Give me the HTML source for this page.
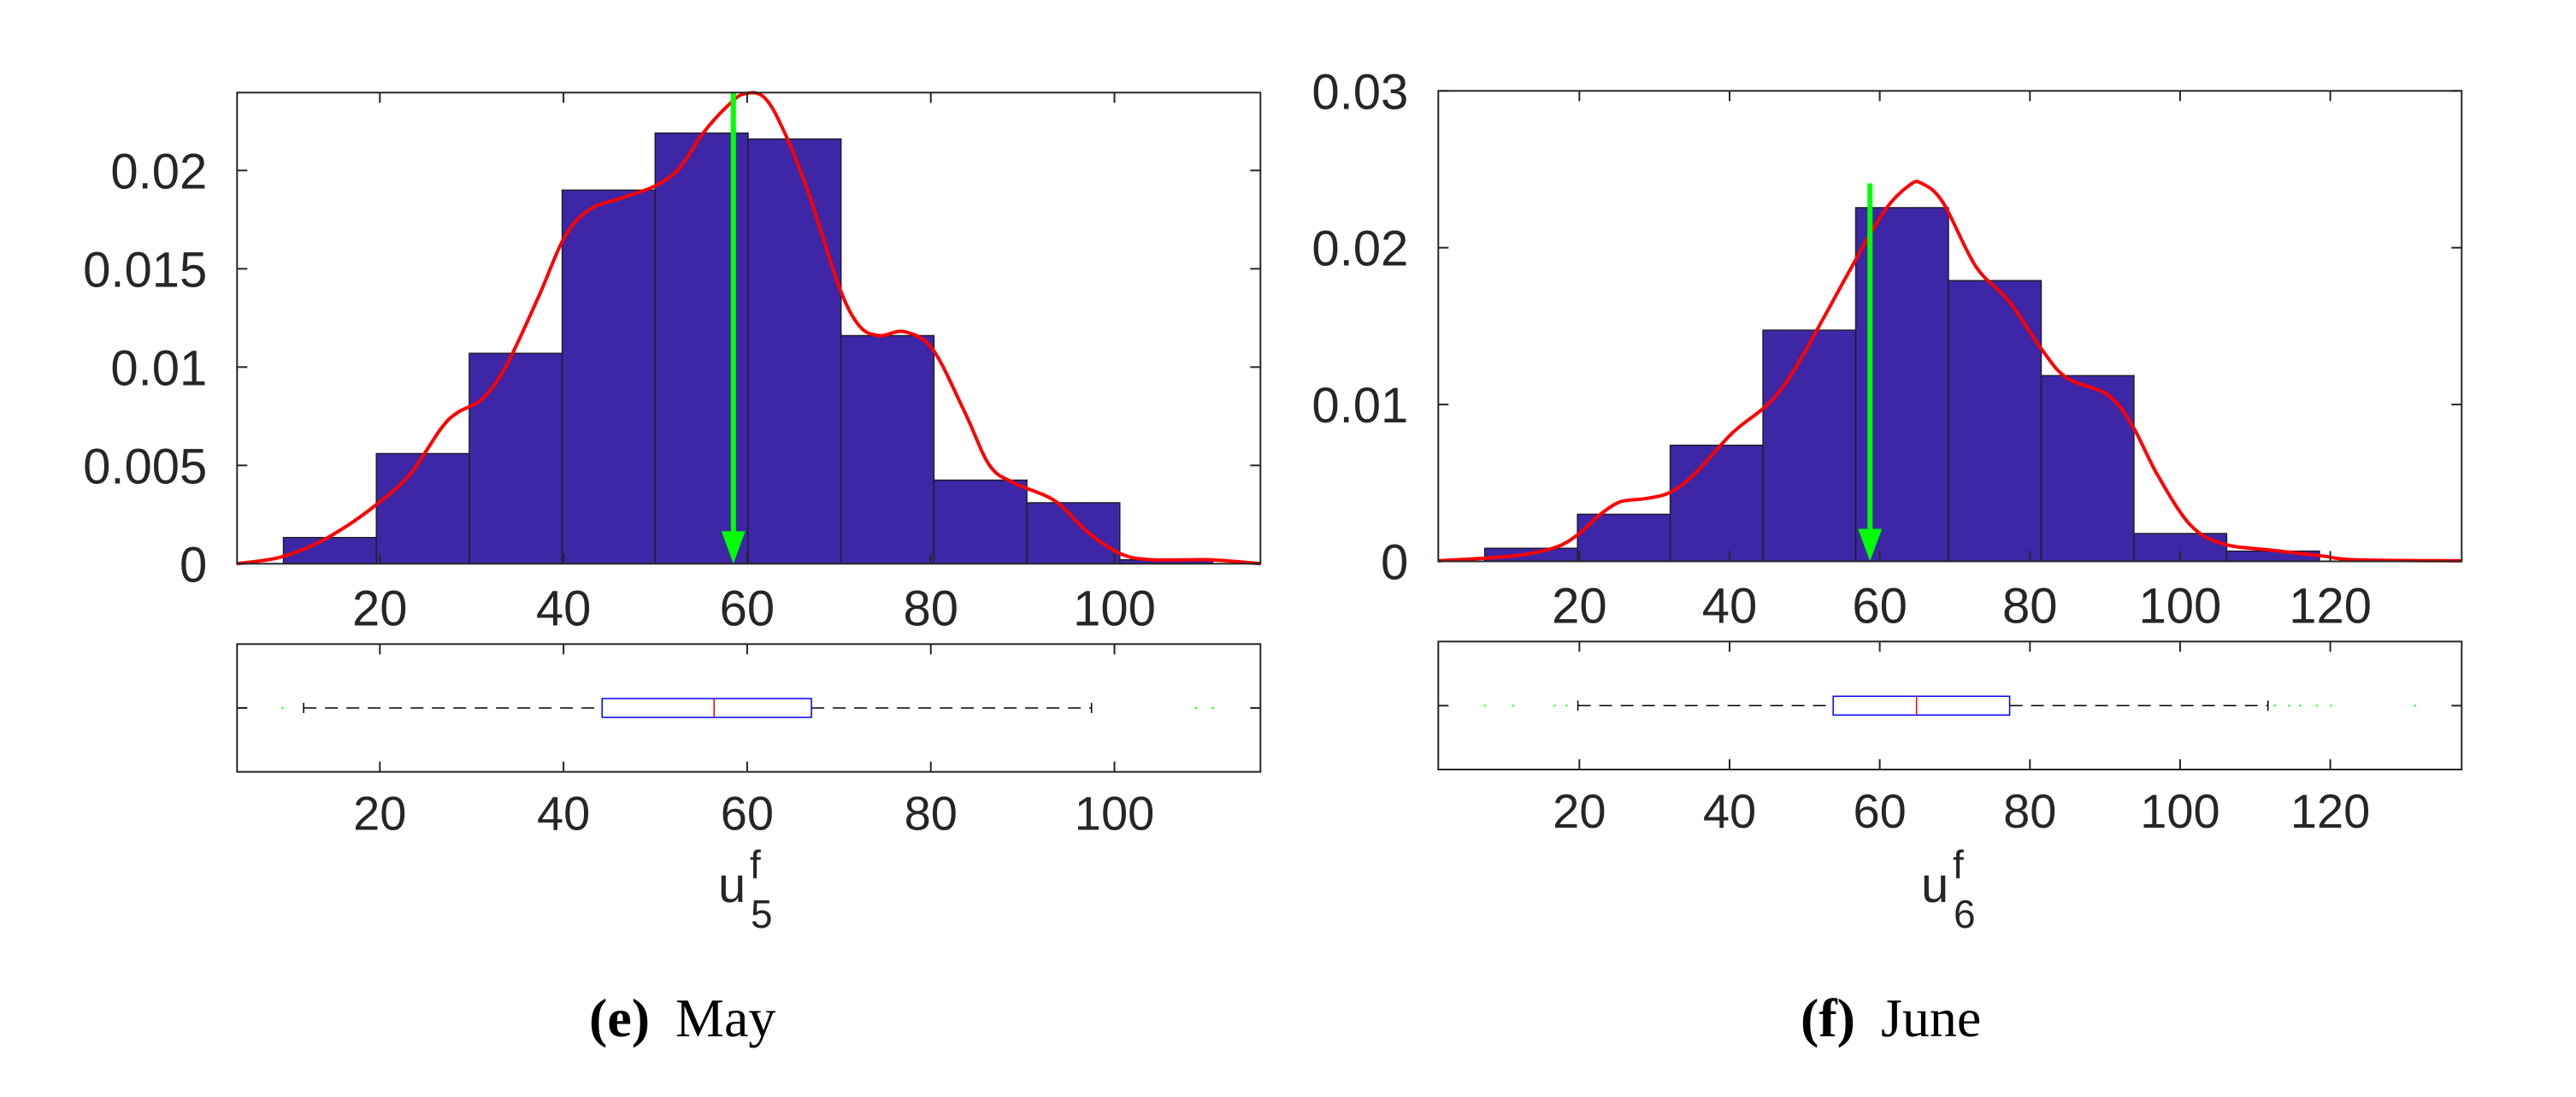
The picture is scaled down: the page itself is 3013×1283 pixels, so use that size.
<!DOCTYPE html>
<html><head><meta charset="utf-8"><style>
html,body{margin:0;padding:0;background:#fff;}
svg{display:block;}
text{font-family:"Liberation Sans",sans-serif;fill:#262626;}
.cap{font-family:"Liberation Serif",serif;fill:#000;}
</style></head><body>
<svg id="fig" width="3013" height="1283" viewBox="0 0 3013 1283" xmlns="http://www.w3.org/2000/svg">
<g id="pE"></g>
<g id="pF"></g>
<text class="cap" x="689" y="1212" font-size="64"><tspan font-weight="bold">(e)</tspan><tspan> </tspan><tspan dx="14">May</tspan></text>
<text class="cap" x="2106" y="1212" font-size="64"><tspan font-weight="bold">(f)</tspan><tspan> </tspan><tspan dx="14">June</tspan></text>
</svg>
<script>
// ---- May data ----
const mayBinStart = 9.5;
const mayBinWidth = 10.12;
const mayBars = [0.00133,0.0056,0.0107,0.019,0.0219,0.0216,0.0116,0.00425,0.0031,0.0002];
const mayKdeX = [4.4,8.9,12.5,16.0,19.6,23.2,26.7,28.5,31.2,33.8,37.4,40.1,42.8,46.3,49.9,52.6,55.2,57.9,59.7,61.9,64.1,66.8,70.0,72.2,74.4,77.1,80.2,83.7,86.4,89.1,93.5,97.1,100.7,104.2,110.5,115.9];
const mayKdeY = [0.0,0.0003,0.0009,0.0018,0.0030,0.0045,0.0069,0.0077,0.0084,0.0101,0.0137,0.0166,0.0180,0.0186,0.0192,0.0201,0.0219,0.0233,0.0239,0.0237,0.0219,0.0187,0.0141,0.0121,0.0116,0.0118,0.0109,0.0077,0.0050,0.0041,0.0032,0.0016,0.0005,0.0002,0.0002,0.0];
const mayArrow = 58.5;
const mayArrowTop = 0.024;
const mayBox = [11.7,44.2,56.4,67.0,97.5];
const mayOutliers = [9.4,108.9,110.7];
const mayXTicks = [20,40,60,80,100];
const mayYTicks = [0,0.005,0.01,0.015,0.02];
const mayYTickLabels = ["0","0.005","0.01","0.015","0.02"];

// ---- June data ----
const junBinStart = 7.4;
const junBinWidth = 12.35;
const junBars = [0.00083,0.0030,0.0074,0.01474,0.02255,0.0179,0.01184,0.00177,0.00065];
const junKdeX = [1.2,11.2,16.7,19.8,22.8,25.5,28.8,32.1,35.4,40.4,45.3,48.6,52.5,56.3,60.7,64.0,65.6,68.4,72.8,77.2,81.6,84.9,90.4,93.7,97.0,101.4,105.8,112.4,119.0,123.4,137.5];
const junKdeY = [0.00003,0.00034,0.00087,0.0017,0.0030,0.0038,0.0040,0.0044,0.0056,0.0082,0.0101,0.0122,0.0155,0.0188,0.0224,0.0240,0.0241,0.0229,0.0188,0.0166,0.0135,0.0117,0.0106,0.0086,0.0055,0.0023,0.0011,0.0007,0.00034,0.0001,0.00003];
const junArrow = 58.7;
const junArrowTop = 0.0241;
const junBox = [19.8,53.8,64.9,77.3,111.7];
const junOutliers = [7.4,11.2,16.7,18.3,112.6,114.5,116,118.2,120.1,131.3];
const junXTicks = [20,40,60,80,100,120];
const junYTicks = [0,0.01,0.02,0.03];
const junYTickLabels = ["0","0.01","0.02","0.03"];

const NS = "http://www.w3.org/2000/svg";
function mk(parent, tag, attrs, txt){
  const e = document.createElementNS(NS, tag);
  for (const k in attrs) e.setAttribute(k, attrs[k]);
  if (txt !== undefined) e.textContent = txt;
  parent.appendChild(e);
  return e;
}
function smoothPath(pts){
  let d = "M" + pts[0][0].toFixed(1) + "," + pts[0][1].toFixed(1);
  for (let i = 0; i < pts.length - 1; i++){
    const p0 = pts[Math.max(0,i-1)], p1 = pts[i], p2 = pts[i+1], p3 = pts[Math.min(pts.length-1,i+2)];
    const c1x = p1[0] + (p2[0]-p0[0])/6, c1y = p1[1] + (p2[1]-p0[1])/6;
    const c2x = p2[0] - (p3[0]-p1[0])/6, c2y = p2[1] - (p3[1]-p1[1])/6;
    d += "C" + c1x.toFixed(1) + "," + c1y.toFixed(1) + " " + c2x.toFixed(1) + "," + c2y.toFixed(1) + " " + p2[0].toFixed(1) + "," + p2[1].toFixed(1);
  }
  return d;
}

function drawPanel(g, cfg){
  const L=cfg.L, R=cfg.R, T=cfg.T, B=cfg.B;
  const sx = v => L + (v - cfg.xmin) / (cfg.xmax - cfg.xmin) * (R - L);
  const sy = v => B - (v - cfg.ymin) / (cfg.ymax - cfg.ymin) * (B - T);
  cfg.bars.forEach((h, i) => {
    const x0 = sx(cfg.binStart + i*cfg.binWidth), x1 = sx(cfg.binStart + (i+1)*cfg.binWidth);
    const r = mk(g, "rect", {x:x0, y:sy(h), width:x1-x0, height:B-sy(h), fill:"#3d27a6", stroke:"#1e1e2e", "stroke-width":1.5});
    
    
  });
  const pts = cfg.kx.map((x, i) => [sx(x), sy(cfg.ky[i])]);
  const kde = mk(g, "path", {d:smoothPath(pts), fill:"none", stroke:"#ff0000", "stroke-width":4, "stroke-linejoin":"round"});
  
  
  const ax = sx(cfg.arrow);
  const ar = mk(g, "g", {});
  
  
  mk(ar, "line", {x1:ax, y1:sy(cfg.arrowTop), x2:ax, y2:B-30, stroke:"#00ff00", "stroke-width":6});
  mk(ar, "polygon", {points:`${ax-14},${B-38} ${ax+14},${B-38} ${ax},${B}`, fill:"#00ff00"});
  const fr = mk(g, "rect", {x:L, y:T, width:R-L, height:B-T, fill:"none", stroke:"#262626", "stroke-width":2});
  
  
  cfg.xticks.forEach(t => {
    const x = sx(t);
    mk(g, "line", {x1:x, y1:B, x2:x, y2:B-12, stroke:"#262626", "stroke-width":2});
    mk(g, "line", {x1:x, y1:T, x2:x, y2:T+12, stroke:"#262626", "stroke-width":2});
    const lb = mk(g, "text", {x:x, y:B+72, "font-size":58, "text-anchor":"middle"}, String(t));
    
    
  });
  cfg.yticks.forEach((t, i) => {
    const y = sy(t);
    mk(g, "line", {x1:L, y1:y, x2:L+12, y2:y, stroke:"#262626", "stroke-width":2});
    mk(g, "line", {x1:R, y1:y, x2:R-12, y2:y, stroke:"#262626", "stroke-width":2});
    const lb = mk(g, "text", {x:L-35, y:y+21, "font-size":58, "text-anchor":"end"}, cfg.ylabels[i]);
    
    
  });
  const bT=cfg.bT, bB=cfg.bB, bc=cfg.bc;
  const bf = mk(g, "rect", {x:L, y:bT, width:R-L, height:bB-bT, fill:"none", stroke:"#262626", "stroke-width":2});
  
  
  cfg.xticks.forEach(t => {
    const x = sx(t);
    mk(g, "line", {x1:x, y1:bB, x2:x, y2:bB-12, stroke:"#262626", "stroke-width":2});
    mk(g, "line", {x1:x, y1:bT, x2:x, y2:bT+12, stroke:"#262626", "stroke-width":2});
    const lb = mk(g, "text", {x:x, y:bB+68, "font-size":56, "text-anchor":"middle"}, String(t));
    
    
  });
  mk(g, "line", {x1:L, y1:bc, x2:L+12, y2:bc, stroke:"#262626", "stroke-width":2});
  mk(g, "line", {x1:R, y1:bc, x2:R-12, y2:bc, stroke:"#262626", "stroke-width":2});
  const bx = cfg.box;
  const bp = mk(g, "g", {});
  
  
  mk(bp, "line", {x1:sx(bx[0]), y1:bc, x2:sx(bx[1]), y2:bc, stroke:"#000", "stroke-width":1.5, "stroke-dasharray":"15,10"});
  mk(bp, "line", {x1:sx(bx[3]), y1:bc, x2:sx(bx[4]), y2:bc, stroke:"#000", "stroke-width":1.5, "stroke-dasharray":"15,10"});
  mk(bp, "line", {x1:sx(bx[0]), y1:bc-6, x2:sx(bx[0]), y2:bc+6, stroke:"#000", "stroke-width":1.5});
  mk(bp, "line", {x1:sx(bx[4]), y1:bc-6, x2:sx(bx[4]), y2:bc+6, stroke:"#000", "stroke-width":1.5});
  mk(bp, "rect", {x:sx(bx[1]), y:bc-11, width:sx(bx[3])-sx(bx[1]), height:22, fill:"none", stroke:"#0000ff", "stroke-width":1.5});
  mk(bp, "line", {x1:sx(bx[2]), y1:bc-11, x2:sx(bx[2]), y2:bc+11, stroke:"#ff0000", "stroke-width":1.5});
  cfg.outliers.forEach(o => {
    const c = mk(bp, "rect", {x:sx(o)-1, y:bc-1, width:2, height:2, fill:"#00ff00"});
    
    
  });
  const al = mk(g, "text", {x:cfg.uX, y:1055, "font-size":58}, "");
  
  
  mk(al, "tspan", {}, "u");
  mk(g, "text", {x:cfg.uX+37, y:1027, "font-size":46}, "f");
  mk(g, "text", {x:cfg.uX+38, y:1085, "font-size":46}, cfg.sub);
}

drawPanel(document.getElementById("pE"), {
  L:277.3, R:1474.3, T:108.3, B:659.3, xmin:4.45, xmax:115.9, ymin:0, ymax:0.02396,
  binStart:mayBinStart, binWidth:mayBinWidth, bars:mayBars, kx:mayKdeX, ky:mayKdeY,
  arrow:mayArrow, arrowTop:mayArrowTop, box:mayBox, outliers:mayOutliers,
  xticks:mayXTicks, yticks:mayYTicks, ylabels:mayYTickLabels,
  bT:753.3, bB:902.7, bc:828, uX:840, sub:"5"
});
drawPanel(document.getElementById("pF"), {
  L:1682.3, R:2879.3, T:106.3, B:656.5, xmin:1.21, xmax:137.5, ymin:0, ymax:0.03,
  binStart:junBinStart, binWidth:junBinWidth, bars:junBars, kx:junKdeX, ky:junKdeY,
  arrow:junArrow, arrowTop:junArrowTop, box:junBox, outliers:junOutliers,
  xticks:junXTicks, yticks:junYTicks, ylabels:junYTickLabels,
  bT:750.3, bB:900, bc:825.3, uX:2247, sub:"6"
});
</script>
</body></html>
